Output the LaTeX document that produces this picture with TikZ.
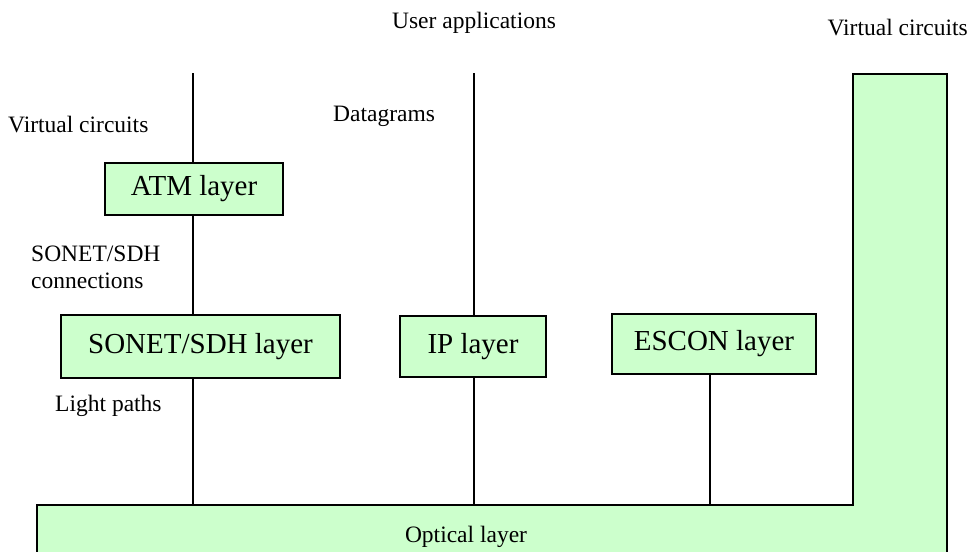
\documentclass[tikz,border=0pt]{standalone}
\usepackage{fontspec}
\setmainfont{Liberation Serif}
\definecolor{layergreen}{HTML}{CCFFCC}
\begin{document}
\begin{tikzpicture}[x=1pt,y=-1pt,
  layerbox/.style={draw=black,line width=1.5pt,fill=layergreen,inner sep=0pt,
     font=\fontsize{29}{33}\selectfont},
  conn/.style={draw=black,line width=1.3pt},
  lbl/.style={inner sep=0pt,font=\fontsize{23.5}{27}\selectfont}]
\useasboundingbox (0,0) rectangle (973,551);
\clip (0,0) rectangle (973,551);
% optical layer (L shape)
\draw[fill=layergreen,line width=1.5pt]
  (37,505) -- (853,505) -- (853,74) -- (947,74) -- (947,570) -- (37,570) -- cycle;
\node[lbl] (optical) at (466,537) {Optical layer};
% boxes
\node[layerbox,minimum width=178pt,minimum height=52pt] (atm) at (194,189) {ATM layer};
\node[layerbox,minimum width=279pt,minimum height=63pt] (sonet) at (200.5,346.5) {SONET/SDH layer};
\node[layerbox,minimum width=146pt,minimum height=61pt] (ip) at (473,346.5) {IP layer};
\node[layerbox,minimum width=204pt,minimum height=60pt] (escon) at (714,344) {ESCON layer};
% connection points
\coordinate (atmtop) at (193,73);
\coordinate (iptop) at (474,73);
\coordinate (o1) at (193,505);
\coordinate (o2) at (474,505);
\coordinate (o3) at (710,505);
\draw[conn] (atmtop) -- (atmtop |- atm.north);
\draw[conn] (atmtop |- atm.south) -- (atmtop |- sonet.north);
\draw[conn] (atmtop |- sonet.south) -- (o1);
\draw[conn] (iptop) -- (iptop |- ip.north);
\draw[conn] (iptop |- ip.south) -- (o2);
\draw[conn] (o3 |- escon.south) -- (o3);
% labels
\node[lbl] (userapp) at (474,23) {User applications};
\node[lbl,anchor=east] (vcright) at (968,28) {Virtual circuits};
\node[lbl,anchor=west] (vcleft) at (8,125) {Virtual circuits};
\node[lbl,anchor=west] (dgram) at (333,116) {Datagrams};
\node[lbl,anchor=west,align=left] (sdhconn) at (31,267) {SONET/SDH\\connections};
\node[lbl,anchor=west] (light) at (55,406) {Light paths};
\end{tikzpicture}
\end{document}
